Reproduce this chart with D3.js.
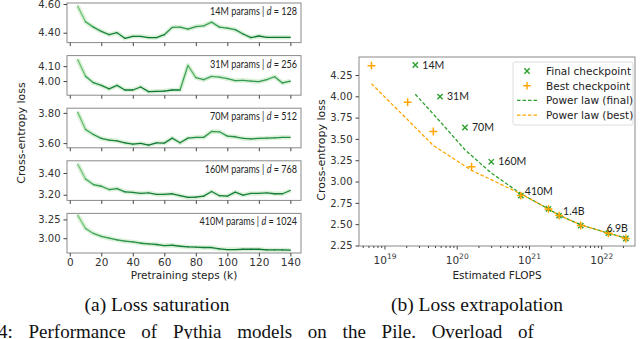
<!DOCTYPE html>
<html>
<head>
<meta charset="utf-8">
<script src="https://cdn.jsdelivr.net/npm/d3@7"></script>
<style>
	body { margin: 0; background: #fff; }
	text { font-family: "DejaVu Sans", sans-serif; fill: #222; }
	.frame { fill: none; stroke: #8a8a8a; stroke-width: 1; }
	.caption { font-family: "Liberation Serif", serif; font-size: 19px; fill: #111; }
</style>
</head>
<body>
<svg width="640" height="339" id="chart"></svg>
<script>

	// left: loss during pretraining, one panel per model
	var steps = [5, 10, 15, 20, 25, 30, 35, 40, 45, 50, 55, 60, 65, 70, 75, 80, 85, 90, 95, 100, 105, 110, 115, 120, 125, 130, 135, 140];
	var loss14M = [4.586, 4.476, 4.439, 4.409, 4.386, 4.400, 4.361, 4.375, 4.375, 4.366, 4.366, 4.386, 4.437, 4.439, 4.425, 4.443, 4.448, 4.474, 4.439, 4.432, 4.421, 4.391, 4.366, 4.377, 4.368, 4.368, 4.368, 4.368];
	var loss31M = [4.145, 4.033, 3.989, 3.971, 3.947, 3.971, 3.940, 3.940, 3.960, 3.929, 3.931, 3.933, 3.940, 3.940, 4.105, 4.023, 4.009, 4.031, 4.027, 4.016, 4.003, 4.005, 4.000, 3.996, 4.009, 4.029, 3.987, 4.000];
	var loss70M = [3.805, 3.690, 3.657, 3.631, 3.620, 3.615, 3.602, 3.593, 3.598, 3.587, 3.602, 3.600, 3.633, 3.602, 3.633, 3.638, 3.638, 3.677, 3.675, 3.646, 3.642, 3.631, 3.628, 3.631, 3.633, 3.635, 3.638, 3.638];
	var loss160M = [3.482, 3.345, 3.294, 3.278, 3.248, 3.257, 3.227, 3.221, 3.212, 3.218, 3.203, 3.203, 3.209, 3.191, 3.175, 3.178, 3.187, 3.230, 3.191, 3.187, 3.224, 3.197, 3.212, 3.212, 3.218, 3.209, 3.209, 3.239];
	var loss410M = [3.307, 3.130, 3.063, 3.023, 3.000, 2.978, 2.960, 2.951, 2.933, 2.924, 2.916, 2.902, 2.906, 2.893, 2.884, 2.880, 2.876, 2.876, 2.857, 2.849, 2.849, 2.853, 2.853, 2.853, 2.844, 2.844, 2.844, 2.840];

	var panelNames = ["14M params", "31M params", "70M params", "160M params", "410M params"];
	var panelDims = [128, 256, 512, 768, 1024];
	var panelTicks = [[4.40, 4.60], [4.00, 4.10], [3.60, 3.80], [3.20, 3.40], [3.00, 3.25]];
	var panelDomains = [[4.331, 4.607], [3.905, 4.171], [3.569, 3.831], [3.148, 3.512], [2.803, 3.330]];
	var stepTicks = [0, 20, 40, 60, 80, 100, 120, 140];

	// right: final / best checkpoint loss vs compute
	var models = ["14M", "31M", "70M", "160M", "410M", "1B", "1.4B", "2.8B", "6.9B", "12B"];
	var shownLabels = ["14M", "31M", "70M", "160M", "410M", "1.4B", "6.9B"];
	var finalFlops = [2.63e19, 5.78e19, 1.28e20, 2.96e20, 7.6e20, 1.83e21, 2.57e21, 5.13e21, 1.24e22, 2.16e22];
	var finalLoss = [4.367, 3.996, 3.634, 3.232, 2.835, 2.679, 2.601, 2.484, 2.394, 2.332];
	var bestFlops = [6.5e18, 2.06e19, 4.67e19, 1.58e20, 7.6e20, 1.83e21, 2.57e21, 5.13e21, 1.24e22, 2.16e22];
	var bestLoss = [4.359, 3.931, 3.587, 3.174, 2.835, 2.679, 2.601, 2.484, 2.394, 2.332];
	var fitFinal = [4.024, 3.704, 3.373, 3.100, 2.858, 2.679, 2.605, 2.492, 2.394, 2.335];
	var fitBest = [4.148, 3.724, 3.423, 3.131, 2.855, 2.679, 2.605, 2.492, 2.394, 2.335];
	var lossTicks = [2.25, 2.50, 2.75, 3.00, 3.25, 3.50, 3.75, 4.00, 4.25];
	var flopTicks = [1e19, 1e20, 1e21, 1e22];

	var svg = d3.select("svg#chart");
	var green = "#2ca02c", orange = "#ffa500";

	// ---------- left panels ----------
	var L = { left: 67, right: 301, top: 3, height: 39.6, step: 52.6 };
	var x = d3.scaleLinear().domain([-1.75, 146.75]).range([L.left, L.right]);
	var series = [loss14M, loss31M, loss70M, loss160M, loss410M];

	series.forEach(function(loss, i) {
		var top = L.top + i * L.step,
			bottom = top + L.height;
		var y = d3.scaleLinear().domain(panelDomains[i]).range([bottom, top]);
		var color = d3.scaleLinear().domain(d3.extent(loss)).range([0.85, 0.4]);
		var g = svg.append("g");
		var pts = steps.map(function(s, j) { return [s, loss[j]]; });

		// faint band
		g.append("path")
			.datum(pts)
			.attr("fill", "none")
			.attr("stroke", "#b5e2b0")
			.attr("stroke-opacity", 0.5)
			.attr("stroke-width", 4.5)
			.attr("stroke-linejoin", "round")
			.attr("d", d3.line().x(function(d) { return x(d[0]); }).y(function(d) { return y(d[1]); }));

		// segments coloured by loss
		g.selectAll("line.seg")
			.data(d3.pairs(pts))
			.enter().append("line")
			.attr("class", "seg")
			.attr("x1", function(d) { return x(d[0][0]); })
			.attr("y1", function(d) { return y(d[0][1]); })
			.attr("x2", function(d) { return x(d[1][0]); })
			.attr("y2", function(d) { return y(d[1][1]); })
			.attr("stroke", function(d) { return d3.interpolateGreens(color((d[0][1] + d[1][1]) / 2)); })
			.attr("stroke-width", 1.3)
			.attr("stroke-linecap", "round");

		g.append("rect").attr("class", "frame")
			.attr("x", L.left).attr("y", top)
			.attr("width", L.right - L.left).attr("height", L.height);

		// y axis
		var ya = g.append("g")
			.attr("transform", "translate(" + L.left + ",0)")
			.call(d3.axisLeft(y).tickValues(panelTicks[i]).tickFormat(d3.format(".2f")).tickSize(3.5).tickPadding(3));
		ya.select(".domain").remove();
		ya.selectAll("line").attr("stroke", "#444");
		ya.selectAll("text").style("font-size", "10px").style("fill", "#333");

		// x axis
		var xa = g.append("g")
			.attr("transform", "translate(0," + bottom + ")")
			.call(d3.axisBottom(x).tickValues(stepTicks).tickSize(3.5).tickPadding(2));
		xa.select(".domain").remove();
		xa.selectAll("line").attr("stroke", "#444");
		if (i < series.length - 1) xa.selectAll("text").remove();
		else xa.selectAll("text").style("font-size", "10.5px").style("fill", "#333");

		// panel label (squeezed a little, like the source figure)
		var lab = g.append("text")
			.attr("transform", "translate(" + (L.right - 4) + "," + (top + 12) + ") scale(0.86,1)")
			.attr("text-anchor", "end")
			.style("font-family", "Lato, sans-serif")
			.style("font-size", "10.5px");
		lab.append("tspan").text(panelNames[i] + " | ");
		lab.append("tspan").style("font-style", "italic").text("d");
		lab.append("tspan").text(" = " + panelDims[i]);
	});

	svg.append("text")
		.attr("x", (L.left + L.right) / 2).attr("y", 279)
		.attr("text-anchor", "middle").style("font-size", "10.5px")
		.text("Pretraining steps (k)");

	svg.append("text")
		.attr("transform", "translate(25,133) rotate(-90)")
		.attr("text-anchor", "middle").style("font-size", "11px")
		.text("Cross-entropy loss");

	// ---------- right panel ----------
	var R = { left: 359, right: 635, top: 57, bottom: 246 };
	var xr = d3.scaleLog().domain([4.37e18, 2.89e22]).range([R.left, R.right]);
	var yr = d3.scaleLinear().domain([2.244, 4.461]).range([R.bottom, R.top]);
	var gr = svg.append("g");

	var lineR = function(fl) {
		return d3.line()
			.x(function(d, j) { return xr(fl[j]); })
			.y(function(d) { return yr(d); });
	};

	gr.append("path").datum(fitFinal)
		.attr("fill", "none").attr("stroke", green).attr("stroke-width", 1.3)
		.attr("stroke-dasharray", "3.5,2").attr("d", lineR(finalFlops));
	gr.append("path").datum(fitBest)
		.attr("fill", "none").attr("stroke", orange).attr("stroke-width", 1.3)
		.attr("stroke-dasharray", "3.5,2").attr("d", lineR(bestFlops));

	gr.selectAll("path.final")
		.data(finalLoss)
		.enter().append("path")
		.attr("class", "final")
		.attr("transform", function(d, j) { return "translate(" + xr(finalFlops[j]) + "," + yr(d) + ")"; })
		.attr("d", d3.symbol().type(d3.symbolTimes).size(20))
		.attr("fill", "none").attr("stroke", green).attr("stroke-width", 1.4);

	gr.selectAll("path.best")
		.data(bestLoss)
		.enter().append("path")
		.attr("class", "best")
		.attr("transform", function(d, j) { return "translate(" + xr(bestFlops[j]) + "," + yr(d) + ")"; })
		.attr("d", d3.symbol().type(d3.symbolPlus).size(22))
		.attr("fill", "none").attr("stroke", orange).attr("stroke-width", 1.5);

	// model labels
	gr.selectAll("text.model")
		.data(models.filter(function(m) { return shownLabels.indexOf(m) >= 0; }))
		.enter().append("text")
		.attr("class", "model")
		.attr("x", function(m) {
			var j = models.indexOf(m);
			return xr(finalFlops[j]) + (j < 4 ? 7 : (m == "6.9B" ? -2 : 4));
		})
		.attr("y", function(m) {
			var j = models.indexOf(m);
			return yr(finalLoss[j]) + (j < 4 ? 3.5 : -1);
		})
		.style("font-family", "Lato, sans-serif")
		.style("font-size", "10.5px")
		.text(function(m) { return m; });

	gr.append("rect").attr("class", "frame")
		.attr("x", R.left).attr("y", R.top)
		.attr("width", R.right - R.left).attr("height", R.bottom - R.top);

	var yra = gr.append("g")
		.attr("transform", "translate(" + R.left + ",0)")
		.call(d3.axisLeft(yr).tickValues(lossTicks).tickFormat(d3.format(".2f")).tickSize(3.5).tickPadding(3));
	yra.select(".domain").remove();
	yra.selectAll("line").attr("stroke", "#444");
	yra.selectAll("text").style("font-size", "10px").style("fill", "#333");

	// log x axis: minor ticks then labelled decades
	var minor = [];
	[18, 19, 20, 21, 22].forEach(function(e) {
		[2, 3, 4, 5, 6, 7, 8, 9].forEach(function(m) {
			var v = m * Math.pow(10, e);
			if (v > xr.domain()[0] && v < xr.domain()[1]) minor.push(v);
		});
	});
	gr.selectAll("line.minor")
		.data(minor)
		.enter().append("line")
		.attr("x1", function(d) { return xr(d); }).attr("x2", function(d) { return xr(d); })
		.attr("y1", R.bottom).attr("y2", R.bottom + 2)
		.attr("stroke", "#444");
	var xt = gr.selectAll("g.xt")
		.data(flopTicks)
		.enter().append("g")
		.attr("transform", function(d) { return "translate(" + xr(d) + "," + R.bottom + ")"; });
	xt.append("line").attr("y2", 3.5).attr("stroke", "#444");
	var xtl = xt.append("text")
		.attr("y", 18).attr("text-anchor", "middle")
		.style("font-size", "10.5px").style("fill", "#333");
	xtl.append("tspan").text("10");
	xtl.append("tspan")
		.attr("dy", -5).style("font-size", "7.5px")
		.text(function(d) { return Math.round(Math.log10(d)); });

	svg.append("text")
		.attr("x", (R.left + R.right) / 2).attr("y", 279)
		.attr("text-anchor", "middle").style("font-size", "10.5px")
		.text("Estimated FLOPS");

	svg.append("text")
		.attr("transform", "translate(325,150) rotate(-90)")
		.attr("text-anchor", "middle").style("font-size", "11px")
		.text("Cross-entropy loss");

	// legend
	var lg = svg.append("g").attr("transform", "translate(513,62)");
	lg.append("rect")
		.attr("width", 120).attr("height", 63).attr("rx", 2)
		.attr("fill", "#fff").attr("fill-opacity", 0.85)
		.attr("stroke", "#ddd");
	var items = [
		{ label: "Final checkpoint", kind: "x", color: green },
		{ label: "Best checkpoint", kind: "+", color: orange },
		{ label: "Power law (final)", kind: "line", color: green },
		{ label: "Power law (best)", kind: "line", color: orange }
	];
	items.forEach(function(it, k) {
		var yy = 9 + k * 14.7;
		if (it.kind == "line") {
			lg.append("line").attr("x1", 4).attr("x2", 24).attr("y1", yy).attr("y2", yy)
				.attr("stroke", it.color).attr("stroke-width", 1.3).attr("stroke-dasharray", "3.5,2");
		} else {
			lg.append("path")
				.attr("transform", "translate(14," + yy + ")")
				.attr("d", d3.symbol().type(it.kind == "x" ? d3.symbolTimes : d3.symbolPlus).size(20))
				.attr("fill", "none").attr("stroke", it.color).attr("stroke-width", 1.4);
		}
		lg.append("text").attr("x", 33).attr("y", yy + 4)
			.style("font-size", "10.5px").text(it.label);
	});

	// captions
	svg.append("text").attr("class", "caption")
		.attr("x", 157).attr("y", 311).attr("text-anchor", "middle")
		.attr("textLength", 145).attr("lengthAdjust", "spacingAndGlyphs")
		.text("(a) Loss saturation");
	svg.append("text").attr("class", "caption")
		.attr("x", 477).attr("y", 311).attr("text-anchor", "middle")
		.attr("textLength", 172).attr("lengthAdjust", "spacingAndGlyphs")
		.text("(b) Loss extrapolation");
	svg.append("text").attr("class", "caption")
		.attr("x", -2).attr("y", 338)
		.style("word-spacing", "11px")
		.text("4:  Performance of Pythia models on the Pile. Overload of");
</script>
</body>
</html>
